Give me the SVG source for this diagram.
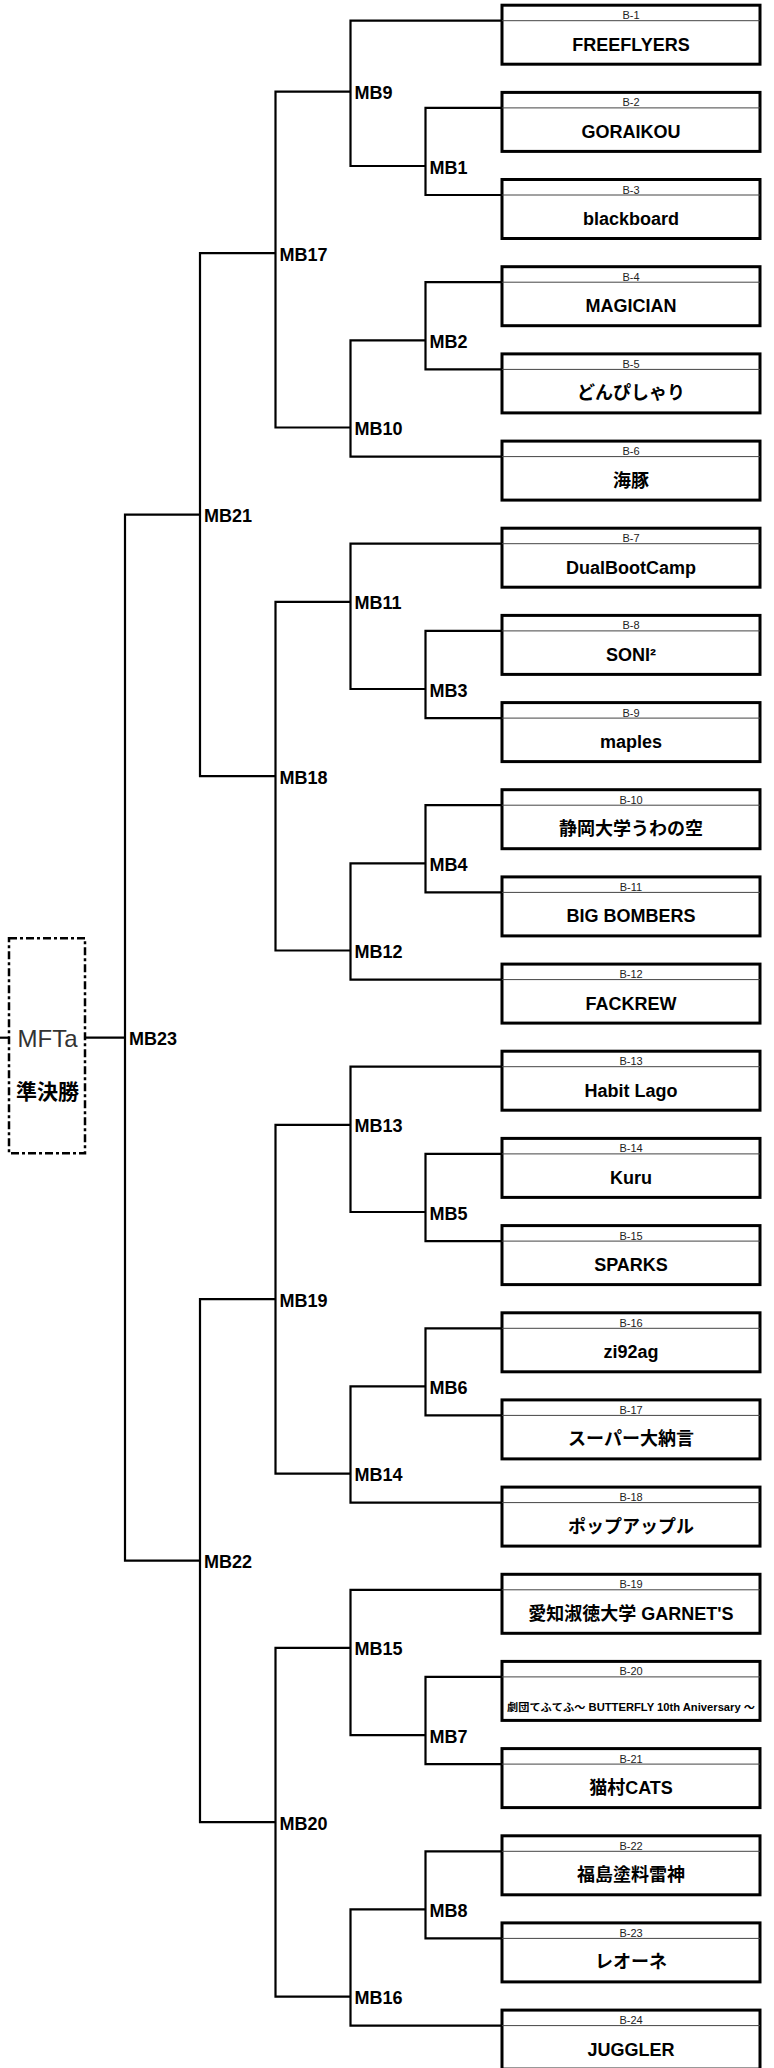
<svg xmlns="http://www.w3.org/2000/svg" width="774" height="2068" viewBox="0 0 774 2068">
<style>
.ln{fill:none;stroke:#000;stroke-width:2.2}
.bx{fill:#fff;stroke:#000;stroke-width:3}
.sep{stroke:#444;stroke-width:1}
.hd{font-family:"Liberation Sans","Noto Sans CJK JP",sans-serif;font-size:11px;fill:#222;text-anchor:middle}
.nm{font-family:"Liberation Sans","Noto Sans CJK JP",sans-serif;font-size:18px;font-weight:bold;fill:#000;text-anchor:middle}
.mb{font-family:"Liberation Sans","Noto Sans CJK JP",sans-serif;font-size:18px;font-weight:bold;fill:#000}
</style>
<rect width="774" height="2068" fill="#fff"/>
<g id="connectors">
<path class="ln" d="M502 107.9H425.5V195H502"/>
<path class="ln" d="M502 282.2H425.5V369.4H502"/>
<path class="ln" d="M502 630.9H425.5V718.1H502"/>
<path class="ln" d="M502 805.2H425.5V892.4H502"/>
<path class="ln" d="M502 1153.9H425.5V1241.1H502"/>
<path class="ln" d="M502 1328.3H425.5V1415.4H502"/>
<path class="ln" d="M502 1676.9H425.5V1764.1H502"/>
<path class="ln" d="M502 1851.3H425.5V1938.4H502"/>
<path class="ln" d="M502 20.7H350.5V166H425.5"/>
<path class="ln" d="M425.5 340.3H350.5V456.6H502"/>
<path class="ln" d="M502 543.7H350.5V689H425.5"/>
<path class="ln" d="M425.5 863.4H350.5V979.6H502"/>
<path class="ln" d="M502 1066.7H350.5V1212H425.5"/>
<path class="ln" d="M425.5 1386.4H350.5V1502.6H502"/>
<path class="ln" d="M502 1589.8H350.5V1735.1H425.5"/>
<path class="ln" d="M425.5 1909.4H350.5V2025.6H502"/>
<path class="ln" d="M350.5 91.7H275.5V427.5H350.5"/>
<path class="ln" d="M350.5 601.9H275.5V950.5H350.5"/>
<path class="ln" d="M350.5 1124.9H275.5V1473.6H350.5"/>
<path class="ln" d="M350.5 1647.9H275.5V1996.6H350.5"/>
<path class="ln" d="M275.5 253.2H200V776.2H275.5"/>
<path class="ln" d="M275.5 1299.2H200V1822.2H275.5"/>
<path class="ln" d="M200 514.7H125V1560.7H200"/>
<path class="ln" d="M85 1037.7H125"/>
<path class="ln" d="M0 1037.7H9"/>
</g>
<g id="final">
<rect x="9" y="938.3" width="76" height="215" fill="none" stroke="#000" stroke-width="2.5" stroke-dasharray="8 3 3 3"/>
<text x="47.5" y="1047" font-family="Liberation Sans, sans-serif" font-size="24" fill="#333" text-anchor="middle">MFTa</text>
<text x="47.5" y="1099" font-family="Noto Sans CJK JP, sans-serif" font-size="21" font-weight="bold" fill="#000" text-anchor="middle">準決勝</text>
</g>
<g id="mb-labels">
<text id="MB1" class="mb" x="429.5" y="173.5">MB1</text>
<text id="MB2" class="mb" x="429.5" y="347.8">MB2</text>
<text id="MB3" class="mb" x="429.5" y="696.5">MB3</text>
<text id="MB4" class="mb" x="429.5" y="870.9">MB4</text>
<text id="MB5" class="mb" x="429.5" y="1219.5">MB5</text>
<text id="MB6" class="mb" x="429.5" y="1393.9">MB6</text>
<text id="MB7" class="mb" x="429.5" y="1742.6">MB7</text>
<text id="MB8" class="mb" x="429.5" y="1916.9">MB8</text>
<text id="MB9" class="mb" x="354.5" y="99.2">MB9</text>
<text id="MB10" class="mb" x="354.5" y="435">MB10</text>
<text id="MB11" class="mb" x="354.5" y="609.4">MB11</text>
<text id="MB12" class="mb" x="354.5" y="958">MB12</text>
<text id="MB13" class="mb" x="354.5" y="1132.4">MB13</text>
<text id="MB14" class="mb" x="354.5" y="1481.1">MB14</text>
<text id="MB15" class="mb" x="354.5" y="1655.4">MB15</text>
<text id="MB16" class="mb" x="354.5" y="2004.1">MB16</text>
<text id="MB17" class="mb" x="279.5" y="260.7">MB17</text>
<text id="MB18" class="mb" x="279.5" y="783.7">MB18</text>
<text id="MB19" class="mb" x="279.5" y="1306.7">MB19</text>
<text id="MB20" class="mb" x="279.5" y="1829.7">MB20</text>
<text id="MB21" class="mb" x="204" y="522.2">MB21</text>
<text id="MB22" class="mb" x="204" y="1568.2">MB22</text>
<text id="MB23" class="mb" x="129" y="1045.2">MB23</text>
</g>
<g id="b1"><rect class="bx" x="502" y="5.2" width="258" height="59"/><line class="sep" x1="502" y1="20.7" x2="760" y2="20.7"/><text class="hd" x="631" y="19.2">B-1</text><text class="nm" x="631" y="50.7">FREEFLYERS</text></g>
<g id="b2"><rect class="bx" x="502" y="92.4" width="258" height="59"/><line class="sep" x1="502" y1="107.9" x2="760" y2="107.9"/><text class="hd" x="631" y="106.4">B-2</text><text class="nm" x="631" y="137.9">GORAIKOU</text></g>
<g id="b3"><rect class="bx" x="502" y="179.5" width="258" height="59"/><line class="sep" x1="502" y1="195" x2="760" y2="195"/><text class="hd" x="631" y="193.5">B-3</text><text class="nm" x="631" y="225">blackboard</text></g>
<g id="b4"><rect class="bx" x="502" y="266.7" width="258" height="59"/><line class="sep" x1="502" y1="282.2" x2="760" y2="282.2"/><text class="hd" x="631" y="280.7">B-4</text><text class="nm" x="631" y="312.2">MAGICIAN</text></g>
<g id="b5"><rect class="bx" x="502" y="353.9" width="258" height="59"/><line class="sep" x1="502" y1="369.4" x2="760" y2="369.4"/><text class="hd" x="631" y="367.9">B-5</text><text class="nm" x="631" y="399.4">どんぴしゃり</text></g>
<g id="b6"><rect class="bx" x="502" y="441.1" width="258" height="59"/><line class="sep" x1="502" y1="456.6" x2="760" y2="456.6"/><text class="hd" x="631" y="455.1">B-6</text><text class="nm" x="631" y="486.6">海豚</text></g>
<g id="b7"><rect class="bx" x="502" y="528.2" width="258" height="59"/><line class="sep" x1="502" y1="543.7" x2="760" y2="543.7"/><text class="hd" x="631" y="542.2">B-7</text><text class="nm" x="631" y="573.7">DualBootCamp</text></g>
<g id="b8"><rect class="bx" x="502" y="615.4" width="258" height="59"/><line class="sep" x1="502" y1="630.9" x2="760" y2="630.9"/><text class="hd" x="631" y="629.4">B-8</text><text class="nm" x="631" y="660.9">SONI²</text></g>
<g id="b9"><rect class="bx" x="502" y="702.6" width="258" height="59"/><line class="sep" x1="502" y1="718.1" x2="760" y2="718.1"/><text class="hd" x="631" y="716.6">B-9</text><text class="nm" x="631" y="748.1">maples</text></g>
<g id="b10"><rect class="bx" x="502" y="789.7" width="258" height="59"/><line class="sep" x1="502" y1="805.2" x2="760" y2="805.2"/><text class="hd" x="631" y="803.7">B-10</text><text class="nm" x="631" y="835.2">静岡大学うわの空</text></g>
<g id="b11"><rect class="bx" x="502" y="876.9" width="258" height="59"/><line class="sep" x1="502" y1="892.4" x2="760" y2="892.4"/><text class="hd" x="631" y="890.9">B-11</text><text class="nm" x="631" y="922.4">BIG BOMBERS</text></g>
<g id="b12"><rect class="bx" x="502" y="964.1" width="258" height="59"/><line class="sep" x1="502" y1="979.6" x2="760" y2="979.6"/><text class="hd" x="631" y="978.1">B-12</text><text class="nm" x="631" y="1009.6">FACKREW</text></g>
<g id="b13"><rect class="bx" x="502" y="1051.2" width="258" height="59"/><line class="sep" x1="502" y1="1066.7" x2="760" y2="1066.7"/><text class="hd" x="631" y="1065.2">B-13</text><text class="nm" x="631" y="1096.7">Habit Lago</text></g>
<g id="b14"><rect class="bx" x="502" y="1138.4" width="258" height="59"/><line class="sep" x1="502" y1="1153.9" x2="760" y2="1153.9"/><text class="hd" x="631" y="1152.4">B-14</text><text class="nm" x="631" y="1183.9">Kuru</text></g>
<g id="b15"><rect class="bx" x="502" y="1225.6" width="258" height="59"/><line class="sep" x1="502" y1="1241.1" x2="760" y2="1241.1"/><text class="hd" x="631" y="1239.6">B-15</text><text class="nm" x="631" y="1271.1">SPARKS</text></g>
<g id="b16"><rect class="bx" x="502" y="1312.8" width="258" height="59"/><line class="sep" x1="502" y1="1328.3" x2="760" y2="1328.3"/><text class="hd" x="631" y="1326.8">B-16</text><text class="nm" x="631" y="1358.3">zi92ag</text></g>
<g id="b17"><rect class="bx" x="502" y="1399.9" width="258" height="59"/><line class="sep" x1="502" y1="1415.4" x2="760" y2="1415.4"/><text class="hd" x="631" y="1413.9">B-17</text><text class="nm" x="631" y="1445.4">スーパー大納言</text></g>
<g id="b18"><rect class="bx" x="502" y="1487.1" width="258" height="59"/><line class="sep" x1="502" y1="1502.6" x2="760" y2="1502.6"/><text class="hd" x="631" y="1501.1">B-18</text><text class="nm" x="631" y="1532.6">ポップアップル</text></g>
<g id="b19"><rect class="bx" x="502" y="1574.3" width="258" height="59"/><line class="sep" x1="502" y1="1589.8" x2="760" y2="1589.8"/><text class="hd" x="631" y="1588.3">B-19</text><text class="nm" x="631" y="1619.8">愛知淑徳大学 GARNET'S</text></g>
<g id="b20"><rect class="bx" x="502" y="1661.4" width="258" height="59"/><line class="sep" x1="502" y1="1676.9" x2="760" y2="1676.9"/><text class="hd" x="631" y="1675.4">B-20</text><text class="nm" x="631" y="1710.9" style="font-size:10px" textLength="248" lengthAdjust="spacingAndGlyphs">劇団てふてふ〜 BUTTERFLY 10th Aniversary 〜</text></g>
<g id="b21"><rect class="bx" x="502" y="1748.6" width="258" height="59"/><line class="sep" x1="502" y1="1764.1" x2="760" y2="1764.1"/><text class="hd" x="631" y="1762.6">B-21</text><text class="nm" x="631" y="1794.1">猫村CATS</text></g>
<g id="b22"><rect class="bx" x="502" y="1835.8" width="258" height="59"/><line class="sep" x1="502" y1="1851.3" x2="760" y2="1851.3"/><text class="hd" x="631" y="1849.8">B-22</text><text class="nm" x="631" y="1881.3">福島塗料雷神</text></g>
<g id="b23"><rect class="bx" x="502" y="1922.9" width="258" height="59"/><line class="sep" x1="502" y1="1938.4" x2="760" y2="1938.4"/><text class="hd" x="631" y="1936.9">B-23</text><text class="nm" x="631" y="1968.4">レオーネ</text></g>
<g id="b24"><rect class="bx" x="502" y="2010.1" width="258" height="59"/><line class="sep" x1="502" y1="2025.6" x2="760" y2="2025.6"/><text class="hd" x="631" y="2024.1">B-24</text><text class="nm" x="631" y="2055.6">JUGGLER</text></g>
</svg>
